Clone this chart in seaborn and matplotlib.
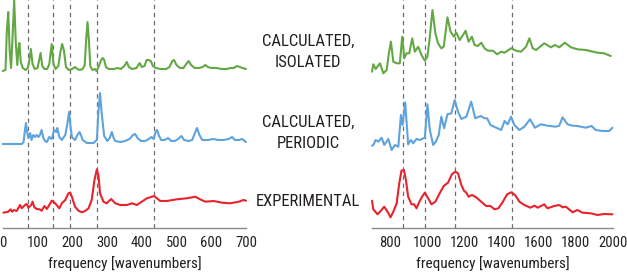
import numpy as np
import pandas as pd
import matplotlib
matplotlib.use("Agg")
import matplotlib.pyplot as plt
from matplotlib import font_manager
import seaborn as sns

# ---------------- dados ----------------
# intensidades relativas à linha de base de cada espectro (unidades arbitrárias)

# 0 - 700 cm-1
iso_low_freq = [0, 8, 12, 16, 20, 24, 28, 33, 38, 42, 45, 48, 52, 58, 66, 72, 76, 81, 86, 92,
                100, 105, 109, 114, 120, 128, 134, 141, 146, 152, 160, 166, 171, 176, 182, 190,
                200, 208, 215, 222, 230, 236, 240, 244, 248, 252, 258, 265, 270, 277, 283, 288,
                292, 297, 305, 320, 330, 340, 350, 357, 363, 372, 385, 394, 400, 408, 414, 420,
                426, 432, 440, 455, 470, 480, 488, 493, 500, 510, 520, 528, 535, 542, 552, 565,
                575, 583, 590, 600, 615, 630, 645, 655, 665, 674, 682, 690, 700]
iso_low_int = [-1, 0, 40, 58, 20, 2, 30, 70, 25, 5, 20, 27, 8, 2, 0, 2, 8, 21, 6, 1,
               2, 10, 17, 4, 1, 1, 6, 26, 6, 1, 4, 18, 26, 20, 3, 0,
               1, 3, 1, 0, 1, 5, 30, 48, 30, 4, 0, 1, -1, 4, 10, 12,
               10, 3, 1, 1, 2, 1, 4, 8, 3, 1, 2, 7, 3, 4, 10, 10,
               9, 4, 2, 1, 1, 3, 9, 10, 5, 2, 2, 6, 9, 5, 2, 2,
               3, 5, 3, 2, 2, 1, 1, 2, 2, 4, 3, 2, 1]

per_low_freq = [0, 55, 60, 64, 67, 70, 74, 79, 83, 88, 93, 98, 103, 107, 112, 117, 122, 127, 134,
                141, 148, 154, 157, 163, 170, 180, 186, 191, 195, 199, 208, 215, 221, 226, 230,
                242, 261, 271, 275, 280, 285, 292, 301, 308, 314, 319, 324, 338, 352, 365, 375,
                381, 388, 398, 410, 420, 428, 434, 440, 444, 450, 456, 466, 476, 485, 495, 505,
                514, 522, 535, 545, 552, 559, 566, 574, 590, 606, 620, 635, 650, 660, 668, 680,
                689, 700]
per_low_int = [0, 0, 2, 14, 21, 12, 6, 11, 4, 9, 7, 9, 7, 9, 14, 6, 3, 2, 7,
               5, 14, 12, 16, 7, 4, 9, 20, 32, 18, 7, 4, 9, 12, 8, 4,
               1, 1, 4, 30, 51, 30, 8, 3, 6, 12, 6, 3, 2, 3, 5, 9,
               10, 6, 3, 3, 5, 7, 5, 12, 14, 8, 4, 4, 6, 3, 3, 5,
               8, 4, 3, 4, 10, 16, 9, 4, 4, 5, 4, 4, 5, 7, 4, 4,
               5, 2]

exp_low_freq = [2, 16, 23, 27, 33, 40, 50, 55, 64, 69, 74, 82, 86, 91, 98, 106, 112, 120, 127,
                134, 141, 151, 163, 170, 180, 189, 194, 199, 208, 218, 228, 237, 247, 256, 264,
                271, 276, 280, 290, 299, 312, 324, 338, 357, 372, 386, 400, 415, 436, 453, 472,
                501, 530, 554, 568, 583, 607, 631, 655, 679, 693, 700]
exp_low_int = [0.3, 1.3, 3.7, 1.3, 3, 2, 8, 4.7, 8, 9, 5.3, 8, 11.3, 5.7, 4, 3.7, 2.3, 7, 4,
               8, 12.3, 9.7, 4.7, 9.7, 13, 19.7, 20.3, 16.3, 6.3, 2.3, 0.7, 2, 4.7, 13, 33,
               43.7, 36.3, 19.7, 11.3, 9.7, 14, 9.7, 8, 8, 9.7, 8, 11.3, 14.7, 17, 12, 12,
               13.7, 14.7, 16.3, 13.7, 11.3, 12, 10.3, 9.7, 11.3, 13, 12.3]

# 700 - 2000 cm-1
iso_high_freq = [700, 707, 720, 743, 761, 779, 791, 802, 815, 833, 850, 863, 874, 886, 901, 917,
                 931, 949, 967, 985, 999, 1012, 1026, 1042, 1056, 1074, 1087, 1107, 1124, 1142,
                 1155, 1173, 1191, 1205, 1221, 1239, 1253, 1271, 1289, 1307, 1325, 1352, 1375,
                 1397, 1415, 1450, 1477, 1504, 1531, 1549, 1567, 1585, 1629, 1665, 1687, 1710,
                 1740, 1773, 1808, 1853, 1916, 1952, 1988]
iso_high_int = [-1.7, 5.7, 1, 6.7, -3.3, 0, 16.7, 28.3, 8.3, 6.7, 6.7, 33.3, 11.7, 16.7, 16.7, 31.7,
                18.3, 23.3, 15, 9.3, 13.3, 33.3, 60, 36.7, 26.7, 21.7, 23.3, 52.7, 38.3, 33.3,
                37.3, 30, 35, 39.3, 28.3, 33.3, 25, 24, 27.3, 21.7, 19.3, 19.3, 15.7,
                18.3, 17.3, 21.7, 19.3, 18.3, 23.3, 31.7, 21.7, 20, 26.7, 22.7, 25, 22.7,
                27.3, 22.7, 20.7, 20, 17.3, 16.7, 14]

per_high_freq = [700, 707, 720, 734, 752, 766, 788, 806, 824, 842, 856, 865, 879, 895, 910, 922,
                 940, 958, 985, 999, 1012, 1030, 1044, 1060, 1074, 1089, 1107, 1128, 1146, 1164,
                 1182, 1209, 1235, 1257, 1286, 1307, 1321, 1339, 1370, 1397, 1415, 1432, 1450,
                 1468, 1495, 1522, 1552, 1579, 1611, 1647, 1692, 1710, 1728, 1755, 1782, 1808,
                 1853, 1884, 1907, 1943, 1979, 1997]
per_high_int = [-1.7, -1, 4, 2.3, 6.3, -1, 5, -6, -1, -2.7, 29, 19, 41.7, -0.3, 4, 0.7,
                5, 4, 6.3, 39.7, 14, -1, 2.3, 9, 27.3, 15.7, 29.7, 30.7, 44, 32.3,
                25, 27.3, 42.3, 25.7, 28, 25.7, 25.7, 19, 16.3, 14, 23, 19.7, 27.3,
                19, 14, 17.3, 24.7, 16.3, 19.7, 18.3, 17.3, 18.3, 26.7, 19.7, 18.3, 18,
                16.3, 18, 14, 13, 13, 16.3]

exp_high_freq = [700, 707, 730, 748, 766, 784, 800, 815, 833, 847, 859, 872, 883, 895, 913, 927,
                 940, 953, 970, 985, 1003, 1021, 1042, 1065, 1087, 1110, 1132, 1150, 1164, 1182,
                 1196, 1209, 1221, 1239, 1262, 1289, 1316, 1339, 1361, 1382, 1406, 1429, 1450,
                 1472, 1495, 1522, 1554, 1576, 1594, 1629, 1647, 1683, 1710, 1728, 1746, 1782,
                 1808, 1835, 1880, 1916, 1952, 1997]
exp_high_int = [12.3, 3.7, -1.3, 2.3, 6.3, 1.3, -4.3, 1.3, 9.7, 29.7, 42.3, 43, 33, 16.3, 8.7, 8.7,
                4.7, 10.3, 16.3, 20.3, 14.7, 8.7, 11.3, 19.7, 27, 30.3, 39, 41.3, 39.7, 28,
                22.3, 20.3, 16.3, 18, 15.7, 11.3, 7, 7, 3.7, 4.7, 11.3, 18.7, 20.7,
                18, 11.3, 8, 5.3, 7.3, 5.3, 8.7, 4.7, 7, 8, 5.7, 6.3, 0.7,
                3, 0.3, -0.3, -2, -1, -1.3]

series_names = ["CALCULATED,\nISOLATED", "CALCULATED,\nPERIODIC", "EXPERIMENTAL"]
peak_lines_low = [72, 144, 195, 271, 435]
peak_lines_high = [865, 987, 1150, 1453]

# ---------------- estilo ----------------
sns.set_style("white")
nomes = {f.name for f in font_manager.fontManager.ttflist}
fonte = "DejaVu Sans"
for candidata in ["Liberation Sans Narrow", "Roboto Condensed", "Open Sans Condensed"]:
    if candidata in nomes:
        fonte = candidata
        break
plt.rcParams["font.family"] = [fonte, "DejaVu Sans"]

cores = ["#63a844", "#5ea3dd", "#e8232b"]
offsets = [158, 84, 15]
cor_texto = "#231f20"

fig = plt.figure(figsize=(6.27, 2.72), dpi=100)
ax_low = fig.add_axes([2.7 / 627, 44 / 272, 243.3 / 627, 228 / 272])
ax_high = fig.add_axes([372 / 627, 44 / 272, 241 / 627, 228 / 272])

dados_low = [(iso_low_freq, iso_low_int), (per_low_freq, per_low_int), (exp_low_freq, exp_low_int)]
dados_high = [(iso_high_freq, iso_high_int), (per_high_freq, per_high_int), (exp_high_freq, exp_high_int)]

for ax, dados, linhas, lim, ticks in [
    (ax_low, dados_low, peak_lines_low, (0, 700), range(0, 701, 100)),
    (ax_high, dados_high, peak_lines_high, (700, 2000), range(800, 2001, 200)),
]:
    for xv in linhas:
        ax.axvline(xv, color="#6d6e71", lw=0.9, ls=(0, (3.5, 3)), zorder=1)
    for (freq, inten), cor, off in zip(dados, cores, offsets):
        df = pd.DataFrame({"freq": freq, "int": np.array(inten) + off})
        sns.lineplot(data=df, x="freq", y="int", ax=ax, color=cor, lw=1.5,
                     estimator=None, sort=True, zorder=3, clip_on=False)
    ax.set_xlim(*lim)
    ax.set_ylim(0, 228)
    ax.set_xticks(list(ticks))
    ax.set_yticks([])
    ax.set_ylabel("")
    ax.set_xlabel("frequency [wavenumbers]", fontsize=11, color=cor_texto, labelpad=4)
    for lado in ["top", "right", "left"]:
        ax.spines[lado].set_visible(False)
    ax.spines["bottom"].set_color("#8a8a8a")
    ax.spines["bottom"].set_linewidth(1.0)
    ax.tick_params(axis="x", direction="in", length=4, width=0.9, color="#8a8a8a",
                   labelsize=10.5, labelcolor=cor_texto, pad=6)
    ax.set_facecolor("none")

# rótulos centrais
for nome, ypix in zip(series_names, [52, 133, 202]):
    fig.text(308 / 627, 1 - ypix / 272, nome, ha="center", va="center", fontsize=12,
             color=cor_texto, linespacing=1.55)

fig.savefig("out.png", dpi=100)
